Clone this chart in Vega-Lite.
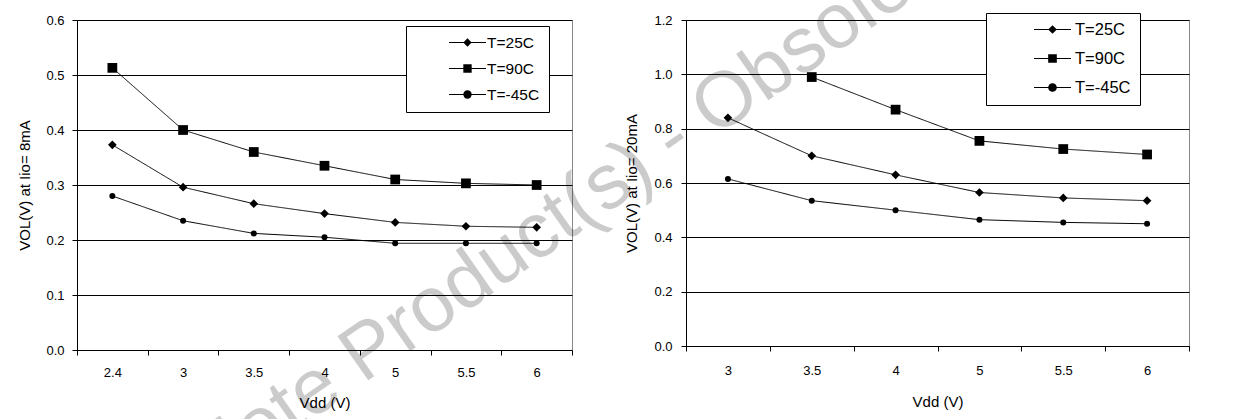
{
  "$schema": "https://vega.github.io/schema/vega-lite/v6.json",
  "background": "white",
  "padding": {"left": 17, "top": -312, "right": 5, "bottom": 0},
  "bounds": "flush",
  "spacing": 114,
  "resolve": {"scale": {"x": "independent", "y": "independent", "shape": "independent", "strokeDash": "independent"}, "legend": {"shape": "independent", "strokeDash": "independent"}},
  "config": {
    "font": "Liberation Sans",
    "view": {"stroke": "#888888", "strokeWidth": 1},
    "axis": {
      "domainColor": "black", "tickColor": "black", "gridColor": "black", "gridOpacity": 1,
      "labelColor": "black", "titleColor": "black", "labelFont": "Liberation Sans", "titleFont": "Liberation Sans",
      "labelFontSize": 13, "titleFontSize": 15, "titleFontWeight": "normal", "tickSize": 5,
      "domainWidth": 1, "gridWidth": 1, "tickWidth": 1
    },
    "legend": {"labelFont": "Liberation Sans", "labelColor": "black"}
  },
  "hconcat": [
    {
      "width": 495,
      "height": 330,
      "data": {"values": [
        {"vdd": "2.4", "series": "T=25C", "vol": 0.373},
        {"vdd": "3", "series": "T=25C", "vol": 0.296},
        {"vdd": "3.5", "series": "T=25C", "vol": 0.266},
        {"vdd": "4", "series": "T=25C", "vol": 0.248},
        {"vdd": "5", "series": "T=25C", "vol": 0.232},
        {"vdd": "5.5", "series": "T=25C", "vol": 0.225},
        {"vdd": "6", "series": "T=25C", "vol": 0.223},
        {"vdd": "2.4", "series": "T=90C", "vol": 0.513},
        {"vdd": "3", "series": "T=90C", "vol": 0.400},
        {"vdd": "3.5", "series": "T=90C", "vol": 0.360},
        {"vdd": "4", "series": "T=90C", "vol": 0.335},
        {"vdd": "5", "series": "T=90C", "vol": 0.310},
        {"vdd": "5.5", "series": "T=90C", "vol": 0.303},
        {"vdd": "6", "series": "T=90C", "vol": 0.300},
        {"vdd": "2.4", "series": "T=-45C", "vol": 0.280},
        {"vdd": "3", "series": "T=-45C", "vol": 0.235},
        {"vdd": "3.5", "series": "T=-45C", "vol": 0.212},
        {"vdd": "4", "series": "T=-45C", "vol": 0.205},
        {"vdd": "5", "series": "T=-45C", "vol": 0.194},
        {"vdd": "5.5", "series": "T=-45C", "vol": 0.194},
        {"vdd": "6", "series": "T=-45C", "vol": 0.194}
      ]},
      "layer": [
        {"mark": {"type": "line", "color": "black", "strokeWidth": 1},
         "encoding": {
           "x": {"field": "vdd", "type": "ordinal", "sort": null,
                 "scale": {"type": "band", "paddingInner": 0, "paddingOuter": 0},
                 "axis": {"title": "Vdd (V)", "labelAngle": 0, "tickBand": "extent", "grid": false, "labelPadding": 11, "titlePadding": 16}},
           "y": {"field": "vol", "type": "quantitative",
                 "scale": {"domain": [0, 0.6], "nice": false, "zero": true},
                 "axis": {"title": "VOL(V) at Iio= 8mA", "values": [0, 0.1, 0.2, 0.3, 0.4, 0.5, 0.6], "format": ".1f", "grid": true, "labelPadding": 8, "titlePadding": 13}},
           "strokeDash": {"field": "series", "type": "nominal", "sort": null,
             "scale": {"range": [[1, 0], [1, 0], [1, 0]]},
             "legend": {"orient": "none", "legendX": 329, "legendY": 6, "title": null,
               "strokeColor": "black", "fillColor": "white", "padding": 9,
               "symbolType": "stroke", "symbolSize": 1369, "symbolStrokeColor": "black", "symbolStrokeWidth": 1,
               "symbolOffset": 33.5, "labelOffset": 0.5, "clipHeight": 15, "rowPadding": 10,
               "labelFontSize": 15.5, "labelLimit": 400,
               "labelExpr": "datum.label + '\u00a0\u00a0\u00a0\u00a0\u00a0\u00a0\u00a0\u00a0'"}}}},
        {"transform": [{"filter": {"field": "series", "equal": "T=25C"}}],
         "mark": {"type": "point", "filled": true, "color": "black", "opacity": 1, "size": 75},
         "encoding": {
           "x": {"field": "vdd", "type": "ordinal", "sort": null},
           "y": {"field": "vol", "type": "quantitative"},
           "shape": {"field": "series", "type": "nominal",
             "scale": {"domain": ["T=25C", "T=90C", "T=-45C"], "range": ["diamond", "square", "circle"]},
             "legend": {"orient": "none", "legendX": 329, "legendY": 6, "title": null,
               "padding": 9, "symbolSize": 70, "symbolFillColor": "black", "symbolStrokeWidth": 0,
               "symbolOffset": 44.75, "labelOffset": 1, "clipHeight": 15, "rowPadding": 10,
               "labelFontSize": 15.5, "labelOpacity": 0, "labelExpr": "''"}}
         }},
        {"transform": [{"filter": {"field": "series", "equal": "T=90C"}}],
         "mark": {"type": "point", "filled": true, "color": "black", "opacity": 1, "size": 95},
         "encoding": {
           "x": {"field": "vdd", "type": "ordinal", "sort": null},
           "y": {"field": "vol", "type": "quantitative"},
           "shape": {"field": "series", "type": "nominal"}}},
        {"transform": [{"filter": {"field": "series", "equal": "T=-45C"}}],
         "mark": {"type": "point", "filled": true, "color": "black", "opacity": 1, "size": 36},
         "encoding": {
           "x": {"field": "vdd", "type": "ordinal", "sort": null},
           "y": {"field": "vol", "type": "quantitative"},
           "shape": {"field": "series", "type": "nominal"}}}
      ]
    },
    {
      "width": 503,
      "height": 326,
      "data": {"values": [
        {"vdd": "3", "series": "T=25C", "vol": 0.84},
        {"vdd": "3.5", "series": "T=25C", "vol": 0.70},
        {"vdd": "4", "series": "T=25C", "vol": 0.63},
        {"vdd": "5", "series": "T=25C", "vol": 0.565},
        {"vdd": "5.5", "series": "T=25C", "vol": 0.545},
        {"vdd": "6", "series": "T=25C", "vol": 0.535},
        {"vdd": "3.5", "series": "T=90C", "vol": 0.99},
        {"vdd": "4", "series": "T=90C", "vol": 0.87},
        {"vdd": "5", "series": "T=90C", "vol": 0.755},
        {"vdd": "5.5", "series": "T=90C", "vol": 0.725},
        {"vdd": "6", "series": "T=90C", "vol": 0.705},
        {"vdd": "3", "series": "T=-45C", "vol": 0.615},
        {"vdd": "3.5", "series": "T=-45C", "vol": 0.535},
        {"vdd": "4", "series": "T=-45C", "vol": 0.50},
        {"vdd": "5", "series": "T=-45C", "vol": 0.465},
        {"vdd": "5.5", "series": "T=-45C", "vol": 0.455},
        {"vdd": "6", "series": "T=-45C", "vol": 0.45}
      ]},
      "layer": [
        {"mark": {"type": "line", "color": "black", "strokeWidth": 1},
         "encoding": {
           "x": {"field": "vdd", "type": "ordinal", "sort": null,
                 "scale": {"type": "band", "paddingInner": 0, "paddingOuter": 0},
                 "axis": {"title": "Vdd (V)", "labelAngle": 0, "tickBand": "extent", "grid": false, "labelPadding": 13, "titlePadding": 17}},
           "y": {"field": "vol", "type": "quantitative",
                 "scale": {"domain": [0, 1.2], "nice": false, "zero": true},
                 "axis": {"title": "VOL(V) at Iio= 20mA", "values": [0, 0.2, 0.4, 0.6, 0.8, 1.0, 1.2], "format": ".1f", "grid": true, "labelPadding": 9, "titlePadding": 14}},
           "strokeDash": {"field": "series", "type": "nominal", "sort": null,
             "scale": {"range": [[1, 0], [1, 0], [1, 0]]},
             "legend": {"orient": "none", "legendX": 300, "legendY": -7, "title": null,
               "strokeColor": "black", "fillColor": "white", "padding": 9,
               "symbolType": "stroke", "symbolSize": 1369, "symbolStrokeColor": "black", "symbolStrokeWidth": 1,
               "symbolOffset": 38.5, "labelOffset": 3.5, "clipHeight": 15, "rowPadding": 12,
               "labelFontSize": 16.5, "labelLimit": 400,
               "labelExpr": "datum.label + '\u00a0\u00a0\u00a0\u00a0\u00a0\u00a0\u00a0\u00a0'"}}}},
        {"transform": [{"filter": {"field": "series", "equal": "T=25C"}}],
         "mark": {"type": "point", "filled": true, "color": "black", "opacity": 1, "size": 75},
         "encoding": {
           "x": {"field": "vdd", "type": "ordinal", "sort": null},
           "y": {"field": "vol", "type": "quantitative"},
           "shape": {"field": "series", "type": "nominal",
             "scale": {"domain": ["T=25C", "T=90C", "T=-45C"], "range": ["diamond", "square", "circle"]},
             "legend": {"orient": "none", "legendX": 300, "legendY": -7, "title": null,
               "padding": 9, "symbolSize": 75, "symbolFillColor": "black", "symbolStrokeWidth": 0,
               "symbolOffset": 49.25, "labelOffset": 1, "clipHeight": 15, "rowPadding": 12,
               "labelFontSize": 16.5, "labelOpacity": 0, "labelExpr": "''"}}
         }},
        {"transform": [{"filter": {"field": "series", "equal": "T=90C"}}],
         "mark": {"type": "point", "filled": true, "color": "black", "opacity": 1, "size": 95},
         "encoding": {
           "x": {"field": "vdd", "type": "ordinal", "sort": null},
           "y": {"field": "vol", "type": "quantitative"},
           "shape": {"field": "series", "type": "nominal"}}},
        {"transform": [{"filter": {"field": "series", "equal": "T=-45C"}}],
         "mark": {"type": "point", "filled": true, "color": "black", "opacity": 1, "size": 36},
         "encoding": {
           "x": {"field": "vdd", "type": "ordinal", "sort": null},
           "y": {"field": "vol", "type": "quantitative"},
           "shape": {"field": "series", "type": "nominal"}}},
        {"data": {"values": [{"wm": "Obsolete Product(s) - Obsolete Product(s)"}]},
         "mark": {"type": "text", "angle": 325, "fontSize": 78, "color": "black", "opacity": 0.2, "align": "center", "baseline": "middle", "dx": -75.2, "dy": 11.6},
         "encoding": {
           "text": {"field": "wm", "type": "nominal"},
           "x": {"datum": "3", "type": "ordinal"},
           "y": {"datum": 0.9556, "type": "quantitative"}}}
      ]
    }
  ]
}
